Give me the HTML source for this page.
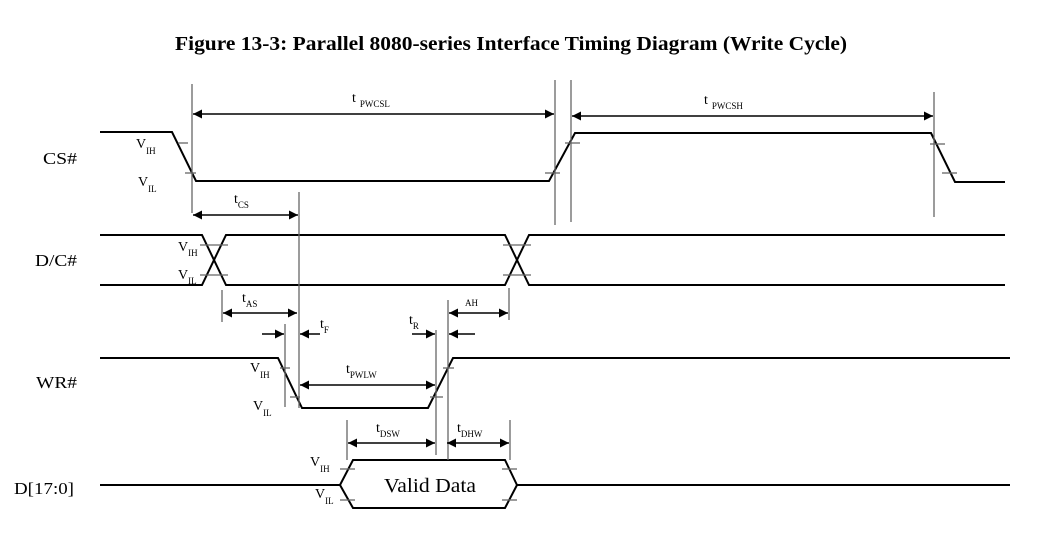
<!DOCTYPE html>
<html><head><meta charset="utf-8"><style>
html,body{margin:0;padding:0;background:#fff;}
svg{display:block;font-family:"Liberation Serif",serif;}
</style></head><body>
<svg width="1054" height="534" viewBox="0 0 1054 534" xmlns="http://www.w3.org/2000/svg">
<defs>
<marker id="a" viewBox="0 0 10 10" refX="10" refY="5" markerWidth="12" markerHeight="9" markerUnits="userSpaceOnUse" orient="auto-start-reverse"><path d="M0,0L10,5L0,10z" fill="#000"/></marker>
</defs>
<text x="175" y="50" font-size="20" font-weight="bold" textLength="672" lengthAdjust="spacingAndGlyphs">Figure 13-3: Parallel 8080-series Interface Timing Diagram (Write Cycle)</text>

<g stroke="#000" stroke-width="2" fill="none">
<polyline points="100,132 172,132 196,181 549,181 575,133 931,133 955,182 1005,182"/>
<polyline points="100,235 202,235 226,285 505,285 529,235 1005,235"/>
<polyline points="100,285 202,285 226,235 505,235 529,285 1005,285"/>
<polyline points="100,358 278,358 302,408 428,408 453,358 1010,358"/>
<polyline points="100,485 340,485 353,460 505,460 517,485 1010,485"/>
<polyline points="340,485 353,508 505,508 517,485"/>
</g>

<g stroke="#666" stroke-width="1.3" fill="none">
<line x1="192" y1="84" x2="192" y2="213"/>
<line x1="555" y1="80" x2="555" y2="225"/>
<line x1="571" y1="80" x2="571" y2="222"/>
<line x1="934" y1="92" x2="934" y2="217"/>
<line x1="299" y1="192" x2="299" y2="408"/>
<line x1="222" y1="290" x2="222" y2="322"/>
<line x1="509" y1="288" x2="509" y2="320"/>
<line x1="448" y1="300" x2="448" y2="460"/>
<line x1="285" y1="324" x2="285" y2="407"/>
<line x1="436" y1="330" x2="436" y2="455"/>
<line x1="347" y1="420" x2="347" y2="460"/>
<line x1="510" y1="420" x2="510" y2="460"/>
<line x1="178" y1="143" x2="188" y2="143"/><line x1="185" y1="173" x2="196" y2="173"/>
<line x1="545" y1="173" x2="560" y2="173"/><line x1="565" y1="143" x2="580" y2="143"/>
<line x1="930" y1="144" x2="945" y2="144"/><line x1="942" y1="173" x2="957" y2="173"/>
<line x1="200" y1="245" x2="228" y2="245"/><line x1="200" y1="275" x2="228" y2="275"/>
<line x1="503" y1="245" x2="531" y2="245"/><line x1="503" y1="275" x2="531" y2="275"/>
<line x1="280" y1="368" x2="290" y2="368"/><line x1="290" y1="397" x2="300" y2="397"/>
<line x1="430" y1="397" x2="443" y2="397"/><line x1="443" y1="368" x2="454" y2="368"/>
<line x1="340" y1="469" x2="355" y2="469"/><line x1="340" y1="500" x2="355" y2="500"/>
<line x1="502" y1="469" x2="517" y2="469"/><line x1="502" y1="500" x2="517" y2="500"/>
</g>

<g stroke="#000" stroke-width="1.5" fill="none">
<line x1="193" y1="114" x2="554" y2="114" marker-start="url(#a)" marker-end="url(#a)"/>
<line x1="572" y1="116" x2="933" y2="116" marker-start="url(#a)" marker-end="url(#a)"/>
<line x1="193" y1="215" x2="298" y2="215" marker-start="url(#a)" marker-end="url(#a)"/>
<line x1="223" y1="313" x2="297" y2="313" marker-start="url(#a)" marker-end="url(#a)"/>
<line x1="449" y1="313" x2="508" y2="313" marker-start="url(#a)" marker-end="url(#a)"/>
<line x1="262" y1="334" x2="284" y2="334" marker-end="url(#a)"/>
<line x1="320" y1="334" x2="300" y2="334" marker-end="url(#a)"/>
<line x1="412" y1="334" x2="435" y2="334" marker-end="url(#a)"/>
<line x1="475" y1="334" x2="449" y2="334" marker-end="url(#a)"/>
<line x1="300" y1="385" x2="435" y2="385" marker-start="url(#a)" marker-end="url(#a)"/>
<line x1="348" y1="443" x2="435" y2="443" marker-start="url(#a)" marker-end="url(#a)"/>
<line x1="447" y1="443" x2="509" y2="443" marker-start="url(#a)" marker-end="url(#a)"/>
</g>

<g font-size="17" fill="#000">
<text x="43" y="164" textLength="34" lengthAdjust="spacingAndGlyphs">CS#</text>
<text x="35" y="266" textLength="42" lengthAdjust="spacingAndGlyphs">D/C#</text>
<text x="36" y="388" textLength="41" lengthAdjust="spacingAndGlyphs">WR#</text>
<text x="14" y="494" textLength="60" lengthAdjust="spacingAndGlyphs">D[17:0]</text>
<text x="384" y="492" font-size="20" textLength="92" lengthAdjust="spacingAndGlyphs">Valid Data</text>
</g>
<g font-size="14" fill="#000">
<text x="136" y="148">V<tspan font-size="9" dy="6">IH</tspan></text>
<text x="138" y="186">V<tspan font-size="9" dy="6">IL</tspan></text>
<text x="178" y="251">V<tspan font-size="9" dy="5">IH</tspan></text>
<text x="178" y="279">V<tspan font-size="9" dy="5">IL</tspan></text>
<text x="250" y="372">V<tspan font-size="9" dy="6">IH</tspan></text>
<text x="253" y="410">V<tspan font-size="9" dy="6">IL</tspan></text>
<text x="310" y="466">V<tspan font-size="9" dy="6">IH</tspan></text>
<text x="315" y="498">V<tspan font-size="9" dy="6">IL</tspan></text>
<text x="352" y="102">t<tspan font-size="9" dx="4" dy="5">PWCSL</tspan></text>
<text x="704" y="104">t<tspan font-size="9" dx="4" dy="5">PWCSH</tspan></text>
<text x="234" y="203">t<tspan font-size="9" dy="5">CS</tspan></text>
<text x="242" y="302">t<tspan font-size="9" dy="5">AS</tspan></text>
<text x="465" y="306" font-size="9">AH</text>
<text x="320" y="328">t<tspan font-size="9" dy="5">F</tspan></text>
<text x="409" y="324">t<tspan font-size="9" dy="5">R</tspan></text>
<text x="346" y="373">t<tspan font-size="9" dy="5">PWLW</tspan></text>
<text x="376" y="432">t<tspan font-size="9" dy="5">DSW</tspan></text>
<text x="457" y="432">t<tspan font-size="9" dy="5">DHW</tspan></text>
</g>
</svg>
</body></html>
